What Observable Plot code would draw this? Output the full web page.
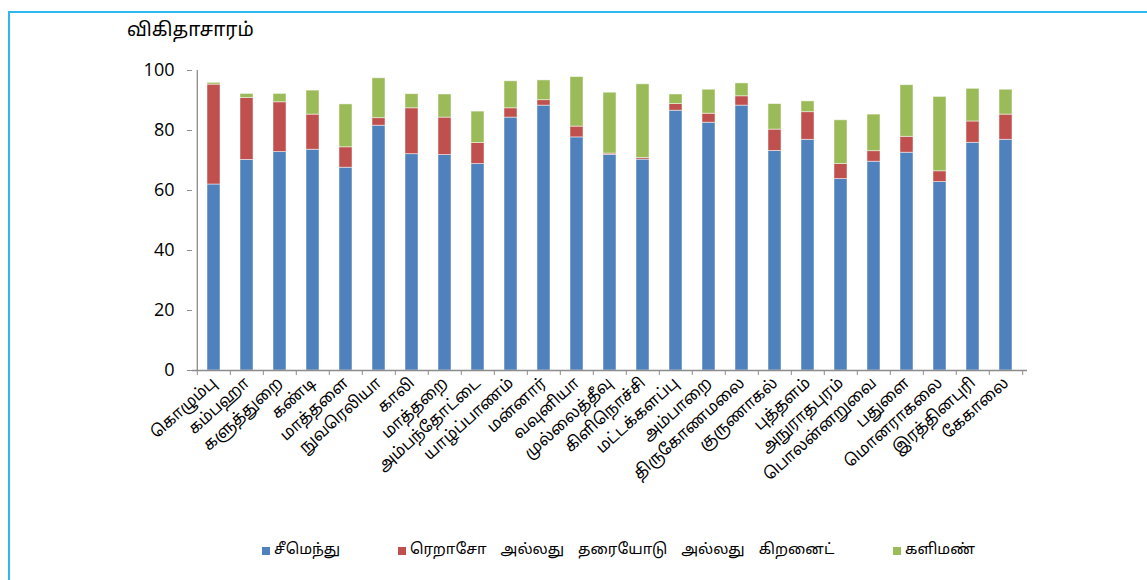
<!DOCTYPE html>
<html>
<head>
<meta charset="utf-8">
<script src="https://cdn.jsdelivr.net/npm/d3@7"></script>
<script src="https://cdn.jsdelivr.net/npm/@observablehq/plot@0.6"></script>
<style>
  body { margin: 0; background: #fff; }
  #wrap { position: relative; width: 1147px; height: 580px; overflow: hidden; font-family: "Noto Sans Tamil", "Lohit Tamil", "Latha", "Noto Sans", sans-serif; }
  #frame { position: absolute; left: 8px; top: 11px; width: 1200px; height: 700px; border-left: 2px solid #2fb8ee; border-top: 2px solid #2fb8ee; }
  #ytitle { position: absolute; left: 127px; top: 19px; font-size: 19px; color: #000; }
  #chart { position: absolute; left: 0; top: 0; }
  #legend { position: absolute; top: 541px; left: 0; font-size: 15px; color: #000; }
  .li { position: absolute; white-space: nowrap; display: flex; align-items: center; }
  .sw { width: 8px; height: 8px; margin-right: 4px; flex: none; }
</style>
</head>
<body>
<div id="wrap">
  <div id="frame"></div>
  <div id="chart"></div>
  <div id="ytitle">விகிதாசாரம்</div>
  <div id="legend"></div>
</div>
<script>
const districts = ["கொழும்பு","கம்பஹா","களுத்துறை","கண்டி","மாத்தளை","நுவரெலியா","காலி","மாத்தறை","அம்பந்தோட்டை","யாழ்ப்பாணம்","மன்னார்","வவுனியா","முல்லைத்தீவு","கிளிநொச்சி","மட்டக்களப்பு","அம்பாறை","திருகோணமலை","குருணாகல்","புத்தளம்","அநுராதபுரம்","பொலன்னறுவை","பதுளை","மொனராகலை","இரத்தினபுரி","கேகாலை"];
const seriesNames = ["சீமெந்து","ரெறாசோ அல்லது தரையோடு அல்லது கிறனைட்","களிமண்"];
const cement = [62.0,70.2,72.8,73.6,67.6,81.6,72.1,71.8,68.8,84.3,88.3,77.7,71.9,70.3,86.6,82.6,88.3,73.2,76.9,63.8,69.6,72.6,62.8,75.9,76.9];
const terrazzo = [33.3,20.6,16.6,11.7,6.8,2.5,15.3,12.5,7.0,3.1,1.8,3.6,0.4,0.5,2.2,3.0,3.1,7.1,9.2,5.0,3.5,5.3,3.6,7.1,8.4];
const clay = [0.6,1.4,2.8,8.0,14.3,13.3,4.7,7.7,10.5,9.0,6.6,16.5,20.3,24.6,3.2,8.0,4.3,8.5,3.6,14.6,12.2,17.2,24.8,10.9,8.3];
const yTicks = [0,20,40,60,80,100];
const colors = ["#4f81bd","#c0504d","#9bbb59"];

const rows = [];
[cement, terrazzo, clay].forEach((arr, s) => {
  districts.forEach((d, i) => rows.push({district: d, series: seriesNames[s], value: arr[i]}));
});

const width = 1147, height = 530;
const mL = 192, mR = 120;
const step = (width - mL - mR) / districts.length;
const tamil = '"Noto Sans Tamil", "Lohit Tamil", "Latha", "Noto Sans", sans-serif';

const chart = Plot.plot({
  width, height,
  marginTop: 70, marginBottom: 160, marginLeft: mL, marginRight: mR,
  style: {background: "transparent", color: "#000", overflow: "visible"},
  x: {domain: districts, paddingInner: 0.62, paddingOuter: 0.31, align: 0.5},
  y: {domain: [0, 100], ticks: yTicks},
  color: {domain: seriesNames, range: colors},
  marks: [
    Plot.barY(rows, {x: "district", y: "value", fill: "series", stroke: "#ffffff", strokeOpacity: 0.6, strokeWidth: 0.8, order: seriesNames}),
    Plot.ruleY([0], {stroke: "#8c8c8c", strokeWidth: 1.3}),
    Plot.ruleX([districts[0]], {x: d => d, y1: 0, y2: 100, dx: -step / 2, stroke: "#8c8c8c", strokeWidth: 1.3}),
    Plot.axisY({ticks: yTicks, tickSize: 5, tickPadding: 13, stroke: "#8c8c8c", fontSize: 18, fontFamily: '"Open Sans", "Noto Sans", sans-serif', label: null}),
    Plot.axisX({tickSize: 5, dx: -step / 2, text: null, stroke: "#8c8c8c", label: null}),
    Plot.axisX({ticks: [districts[districts.length - 1]], tickSize: 5, dx: step / 2, text: null, stroke: "#8c8c8c", label: null}),
    Plot.axisX({tickSize: 0, tickPadding: 10, tickRotate: -42, fontSize: 16, fontFamily: tamil, label: null})
  ]
});
document.getElementById("chart").appendChild(chart);

const legendPos = [262, 398, 893];
const legend = document.getElementById("legend");
seriesNames.forEach((name, i) => {
  const item = document.createElement("div");
  item.className = "li";
  item.style.left = legendPos[i] + "px";
  if (i === 1) item.style.wordSpacing = "10px";
  item.innerHTML = `<span class="sw" style="background:${colors[i]}"></span><span>${name}</span>`;
  legend.appendChild(item);
});
</script>
</body>
</html>
